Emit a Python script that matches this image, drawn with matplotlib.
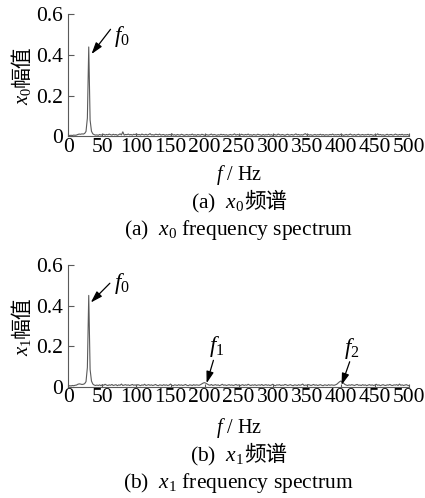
import numpy as np
from matplotlib import pyplot as plt

plt.rcParams["font.family"] = ["Liberation Serif", "Noto Sans CJK SC"]
plt.rcParams["mathtext.fontset"] = "custom"
plt.rcParams["mathtext.rm"] = "Liberation Serif"
plt.rcParams["mathtext.it"] = "Liberation Serif:italic"

# Frequency grid (Hz), 2 Hz resolution
freq = np.arange(0, 501, 2)

# Amplitudes in units of 1e-3, 0..40 Hz then 42..500 Hz
x0_low = [3, 4, 5, 4, 6, 5, 6, 9, 11, 10, 12, 11, 14, 24, 90, 440, 80, 25, 12, 8, 6]
x0_rest = [
    7, 5, 9, 6, 8, 10, 6, 9, 7, 11, 8, 6, 10, 7, 9, 5, 8, 12, 7, 22, 6, 9, 8, 11, 7,
    9, 6, 10, 8, 12, 7, 9, 6, 11, 8, 7, 10, 6, 9, 13, 7, 8, 6, 10, 9, 7, 11, 6, 8, 9,
    5, 8, 6, 9, 7, 12, 6, 8, 5, 9, 7, 6, 10, 8, 5, 7, 9, 6, 8, 7, 11, 6, 8, 5, 9,
    7, 6, 10, 8, 5, 9, 7, 6, 8, 11, 6, 9, 7, 5, 8, 6, 10, 7, 9, 6, 8, 5, 7, 9, 6,
    8, 12, 6, 9, 7, 5, 10, 8, 6, 9, 7, 11, 6, 8, 5, 9, 7, 6, 10, 8, 7, 5, 9, 6, 8,
    7, 10, 6, 8, 5, 9, 7, 6, 11, 8, 6, 9, 7, 5, 8, 10, 6, 7, 9, 6, 8, 12, 7, 9, 6,
    8, 6, 10, 13, 7, 9, 6, 8, 5, 7, 9, 6, 8, 7, 10, 6, 9, 5, 8, 7, 6, 9, 7, 11, 6,
    8, 7, 9, 6, 10, 8, 5, 7, 9, 6, 8, 11, 7, 6, 9, 5, 8, 10, 6, 7, 9, 6, 8, 7, 10,
    6, 9, 7, 5, 8, 6, 12, 7, 9, 6, 8, 5, 7, 10, 6, 8, 9, 6, 7, 11, 8, 6, 9, 7, 10,
    6, 8, 7, 9, 5,
]

x1_low = [3, 5, 4, 6, 5, 7, 8, 12, 14, 13, 11, 12, 15, 25, 95, 450, 85, 28, 13, 8, 6]
x1_rest = [
    8, 6, 9, 5, 10, 7, 12, 8, 6, 9, 7, 11, 6, 8, 10, 5, 9, 7, 13, 6, 8, 10, 7, 9, 6,
    8, 11, 7, 9, 6, 10, 8, 5, 9, 7, 12, 6, 8, 10, 7, 9, 6, 8, 11, 7, 5, 9, 8, 6, 10,
    7, 9, 6, 8, 13, 7, 5, 9, 8, 6, 10, 7, 9, 6, 8, 11, 7, 5, 9, 8, 6, 10, 7, 9, 8,
    7, 10, 14, 18, 20, 17, 13, 9, 7, 11, 6, 8, 10, 7, 9, 5, 8, 12, 7, 9, 6, 8, 10, 7, 9,
    6, 8, 11, 7, 9, 5, 8, 10, 6, 9, 7, 12, 8, 6, 9, 7, 10, 6, 8, 9, 7, 11, 6, 8, 10,
    7, 9, 6, 8, 12, 7, 5, 9, 8, 10, 6, 8, 7, 11, 9, 6, 8, 10, 7, 5, 9, 8, 6, 10, 7,
    9, 13, 6, 8, 7, 10, 9, 6, 8, 11, 7, 9, 6, 8, 10, 7, 5, 9, 8, 6, 10, 7, 9, 8, 7,
    9, 12, 18, 24, 28, 24, 17, 11, 8, 6, 9, 7, 10, 8, 6, 9, 11, 7, 8, 6, 10, 7, 9, 5, 8,
    10, 7, 9, 6, 8, 12, 7, 9, 5, 8, 10, 7, 6, 9, 8, 11, 7, 6, 9, 8, 10, 6, 13, 7, 9,
    6, 8, 10, 7, 5,
]

x_ticks = [0, 50, 100, 150, 200, 250, 300, 350, 400, 450, 500]
y_ticks = [0, 0.2, 0.4, 0.6]
y_tick_labels = ["0", "0.2", "0.4", "0.6"]

# (label, text position, arrow tail, arrow head) in data coordinates
marks_x0 = [("$f_0$", (79, 0.49), (62, 0.527), (34, 0.405))]
marks_x1 = [
    ("$f_0$", (79, 0.51), (61, 0.51), (33, 0.415)),
    ("$f_1$", (218, 0.20), (213, 0.13), (203, 0.017)),
    ("$f_2$", (416, 0.19), (413, 0.123), (401, 0.008)),
]

LINE = "#5a5a5a"
FS = 15.5
CJK = ["Noto Sans CJK SC"]


def text_row(fig, x, y, pieces, size, vertical=False):
    """Draw mixed-font pieces one after another, centred on (x, y) in figure fraction."""
    renderer = fig.canvas.get_renderer()
    W, H = fig.bbox.width, fig.bbox.height
    texts, widths = [], []
    for s, fam in pieces:
        kw = {"family": fam} if fam else {}
        t = fig.text(0, 0, s, fontsize=size, ha="left", va="baseline", **kw)
        widths.append(t.get_window_extent(renderer).width)
        texts.append(t)
    total = sum(widths)
    if vertical:
        # baseline runs upward; x is the baseline position
        pos = y * H - total / 2
        for t, w in zip(texts, widths):
            t.set_rotation(90)
            t.set_rotation_mode("anchor")
            t.set_position((x, pos / H))
            pos += w
    else:
        pos = x * W - total / 2
        for t, w in zip(texts, widths):
            t.set_position((pos / W, y))
            pos += w


def draw_panel(fig, rect, amp, marks, tag, sub, ys):
    ax = fig.add_axes(rect)
    ax.plot(freq, np.array(amp) * 1e-3, color=LINE, lw=0.8)
    ax.set_xlim(0, 500)
    ax.set_ylim(0, 0.6)
    for side in ("top", "right"):
        ax.spines[side].set_visible(False)
    for side in ("left", "bottom"):
        ax.spines[side].set_color(LINE)
        ax.spines[side].set_linewidth(0.8)
    ax.set_xticks(x_ticks)
    ax.set_yticks(y_ticks)
    ax.set_yticklabels(y_tick_labels)
    ax.tick_params(axis="y", direction="in", length=4, width=0.8, color=LINE,
                   labelsize=FS, pad=4)
    ax.tick_params(axis="x", direction="in", length=2, width=0.8, color=LINE,
                   labelsize=FS, pad=1)
    for label, txt, tail, head in marks:
        ax.annotate("", xy=head, xytext=tail,
                    arrowprops=dict(arrowstyle="-|>,head_length=0.7,head_width=0.22",
                                    color="black", lw=0.9, shrinkA=0, shrinkB=0))
        ax.text(txt[0], txt[1], label, fontsize=FS + 1, ha="center", va="center")

    cx = rect[0] + rect[2] / 2
    xv = f"$x_{sub}$"
    text_row(fig, 0.065, rect[1] + rect[3] / 2, [(xv, None), ("幅值", CJK)], 15,
             vertical=True)
    fig.text(cx, ys[0], "$f$ / Hz", fontsize=14.5, ha="center", va="center")
    text_row(fig, cx, ys[1], [(f"({tag})  {xv}", None), ("频谱", CJK)], FS)
    fig.text(cx, ys[2], f"({tag})  {xv} frequency spectrum", fontsize=FS,
             ha="center", va="center")
    return ax


def __main__() -> None:
    fig = plt.figure(figsize=(4.25, 4.98), dpi=100)
    H = 498.0
    draw_panel(fig, [0.1607, 0.7263, 0.8016, 0.2446], x0_low + x0_rest, marks_x0,
               "a", "0", (1 - 175 / H, 1 - 208 / H, 1 - 230 / H))
    draw_panel(fig, [0.1607, 0.2235, 0.8016, 0.2444], x1_low + x1_rest, marks_x1,
               "b", "1", (1 - 428 / H, 1 - 461 / H, 1 - 483 / H))
    fig.savefig("out.png", dpi=100)


if __name__ == "__main__":
    __main__()
